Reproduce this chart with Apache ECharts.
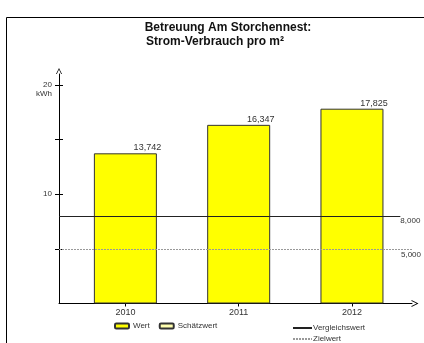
<!DOCTYPE html>
<html>
<head>
<meta charset="utf-8">
<script src="https://cdn.jsdelivr.net/npm/echarts@6/dist/echarts.min.js"></script>
<style>
  html, body { margin: 0; padding: 0; background: #fff; }
  #chart { width: 424px; height: 343px; }
</style>
</head>
<body>
<div id="chart"></div>
<script>
// Daten
const years = ['2010', '2011', '2012'];
const wert = [13.742, 16.347, 17.825];
const schaetzwert = [];
const vergleichswert = 8.0;
const zielwert = 5.0;
const yTickValues = [5, 10, 15, 20];
const yLabelValues = [10, 20];

const FONT = "'Liberation Sans', Arial, sans-serif";
const X_MIN = -0.586, X_MAX = 2.53;

// Kommaformat wie im Original (13,742)
const fmt = v => v.toFixed(3).replace('.', ',');

const chart = echarts.init(document.getElementById('chart'));

const arrowUp = 'path://M0,10 L5,0 L10,10 L8.6,10 L5,2.6 L1.4,10 Z';

chart.setOption({
    animation: false,
    textStyle: { fontFamily: FONT },
    title: [
        { text: 'Betreuung Am Storchennest:', left: 223, top: 17, textAlign: 'center',
          textStyle: { fontSize: 12, fontWeight: 'bold', color: '#111', fontFamily: FONT } },
        { text: 'Strom-Verbrauch pro m²', left: 210, top: 31, textAlign: 'center',
          textStyle: { fontSize: 12, fontWeight: 'bold', color: '#111', fontFamily: FONT } }
    ],
    graphic: [
        { type: 'rect', shape: { x: 6.5, y: 17.5, width: 500, height: 400 },
          style: { fill: 'none', stroke: '#000', lineWidth: 1 }, silent: true },
        { type: 'text', right: 424 - 52, top: 90,
          style: { text: 'kWh', fontSize: 8, fill: '#333', fontFamily: FONT } }
    ],
    legend: [
        { data: ['Wert', 'Schätzwert'], left: 114, top: 322, padding: 0, itemWidth: 14, itemHeight: 5,
          itemGap: 9, textStyle: { fontSize: 8, color: '#333', padding: [0, 0, 0, -1] } },
        { data: ['Vergleichswert', 'Zielwert'], orient: 'vertical', left: 292, top: 324, padding: 0,
          height: 40, itemWidth: 19, itemHeight: 8, itemGap: 3,
          itemStyle: { opacity: 0 },
          textStyle: { fontSize: 8, color: '#333', padding: [0, 0, 0, -4] } }
    ],
    grid: { left: 59, right: 12, top: 74, bottom: 39.5, containLabel: false, outerBoundsMode: 'none' },
    xAxis: {
        type: 'value', min: X_MIN, max: X_MAX,
        splitLine: { show: false },
        axisLine: { show: true, onZero: false, lineStyle: { color: '#000', width: 1 },
                    symbol: ['none', arrowUp], symbolSize: [7, 7], symbolOffset: [0, 3] },
        axisTick: { show: true, customValues: [0, 1, 2], length: 3, lineStyle: { color: '#000' } },
        axisLabel: { customValues: [0, 1, 2], formatter: v => years[v], fontSize: 9,
                     color: '#333', margin: 5 }
    },
    yAxis: [
        {
            type: 'value', min: 0, max: 21,
            splitLine: { show: false },
            axisLine: { show: true, onZero: false, lineStyle: { color: '#000', width: 1 },
                        symbol: ['none', arrowUp], symbolSize: [8, 6], symbolOffset: [0, 3] },
            axisTick: { show: true, customValues: yTickValues, length: 4, lineStyle: { color: '#000' } },
            axisLabel: { customValues: yLabelValues, fontSize: 8, color: '#333', margin: 7 }
        },
        {
            type: 'value', min: 0, max: 21, position: 'left',
            splitLine: { show: false },
            axisLine: { show: false, onZero: false },
            axisTick: { show: true, inside: true, customValues: yTickValues, length: 4,
                        lineStyle: { color: '#000' } },
            axisLabel: { show: false }
        }
    ],
    series: [
        {
            name: 'Vergleichswert', type: 'line', data: [], symbol: 'none', z: 1,
            lineStyle: { color: '#222', width: 1 }, itemStyle: { color: '#222' },
            markLine: {
                silent: true, symbol: 'none',
                lineStyle: { color: '#222', width: 1, type: 'solid' },
                label: { position: 'insideEndBottom', distance: [0, 1], align: 'left',
                         formatter: fmt(vergleichswert), fontSize: 8, color: '#333' },
                data: [[{ coord: [X_MIN, vergleichswert] }, { coord: [2.427, vergleichswert] }]]
            }
        },
        {
            name: 'Zielwert', type: 'line', data: [], symbol: 'none', z: 1,
            lineStyle: { color: '#999', width: 1, type: [2, 1] }, itemStyle: { color: '#999' },
            markLine: {
                silent: true, symbol: 'none',
                lineStyle: { color: '#999', width: 1, type: [2, 1] },
                label: { position: 'insideEndBottom', distance: [11, 2], align: 'left',
                         formatter: fmt(zielwert), fontSize: 8, color: '#333' },
                data: [[{ coord: [X_MIN, zielwert] }, { coord: [X_MAX, zielwert] }]]
            }
        },
        {
            name: 'Wert', type: 'bar', z: 3, barWidth: 63, barGap: '-100%',
            data: wert.map((v, i) => [i, v]),
            itemStyle: { color: '#ffff00', borderColor: '#333', borderWidth: 1 },
            label: { show: true, position: 'top', distance: 1, offset: [22, 0], fontSize: 9,
                     color: '#333', formatter: p => fmt(p.value[1]) }
        },
        {
            name: 'Schätzwert', type: 'bar', z: 3, barWidth: 63, barGap: '-100%',
            data: schaetzwert,
            itemStyle: { color: '#ffffb0', borderColor: '#333', borderWidth: 1 }
        }
    ]
});
</script>
</body>
</html>
